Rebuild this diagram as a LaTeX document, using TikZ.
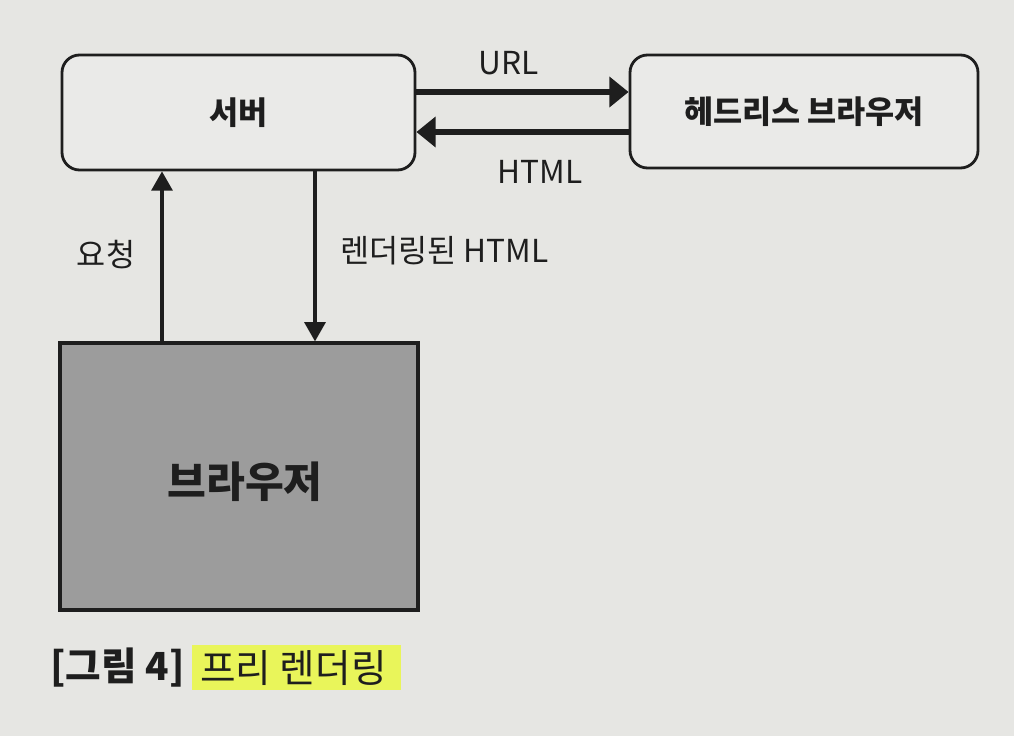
\documentclass[tikz,border=0pt]{standalone}
\usepackage{fontspec}
\setmainfont{Noto Sans CJK KR}
\usetikzlibrary{arrows.meta}
\definecolor{paper}{HTML}{E6E6E3}
\definecolor{boxfill}{HTML}{EAEAE8}
\definecolor{darkbox}{HTML}{9C9C9C}
\definecolor{hl}{HTML}{E9F55A}
\definecolor{ink}{HTML}{1E1E1E}
\tikzset{
  rbox/.style={draw=ink, line width=1.6pt, rounded corners=10pt, fill=boxfill, minimum width=353*0.02cm, minimum height=115*0.02cm, font=\fontsize{18}{22}\selectfont\bfseries, text=ink},
  gbox/.style={draw=ink, line width=1.8pt, fill=darkbox, minimum width=358*0.02cm, minimum height=267*0.02cm, text=ink},
  harrow/.style={draw=ink, line width=3pt, -{Triangle[length=11pt,width=17pt]}},
  varrow/.style={draw=ink, line width=1.8pt, -{Triangle[length=11pt,width=12pt]}},
  lbl/.style={font=\fontsize{18}{22}\selectfont, text=ink},
}
\begin{document}
\begin{tikzpicture}[x=0.02cm,y=-0.02cm]
\fill[paper] (0,0) rectangle (1014,736);
\useasboundingbox (0,0) rectangle (1014,736);
\node[rbox] (server) at (238.5,112.5) {서버};
\node[rbox, minimum width=348*0.02cm, minimum height=113*0.02cm] (headless) at (804,111.5) {헤드리스 브라우저};
\node[gbox] (browser) at (239,476.5) {};
\node[font=\fontsize{24}{28}\selectfont\bfseries, text=ink] (blabel) at (245,482) {브라우저};
\coordinate (s1) at (server.east |- 0,92);
\coordinate (h1) at (headless.west |- 0,92);
\coordinate (s2) at (server.east |- 0,132);
\coordinate (h2) at (headless.west |- 0,132);
\draw[harrow] (s1) -- (h1);
\draw[harrow] (h2) -- (s2);
\node[lbl] (url) at (509,63) {URL};
\node[lbl] (html) at (540,172) {HTML};
\coordinate (b1) at (162,0 |- browser.north);
\coordinate (sv1) at (162,0 |- server.south);
\coordinate (sv2) at (315,0 |- server.south);
\coordinate (b2) at (315,0 |- browser.north);
\draw[varrow] (b1) -- (sv1);
\draw[varrow] (sv2) -- (b2);
\node[lbl] (req) at (106,255) {요청};
\node[lbl, anchor=west] (rend) at (334,251) {렌더링된 HTML};
\fill[hl] (192,645) rectangle (401,690);
\node[anchor=west, font=\fontsize{22}{26}\selectfont\bfseries, text=ink] (cap) at (44,668) {[그림 4]};
\node[anchor=west, font=\fontsize{22}{26}\selectfont, text=ink] (capt) at (194,668) {프리 렌더링};
\end{tikzpicture}
\end{document}
